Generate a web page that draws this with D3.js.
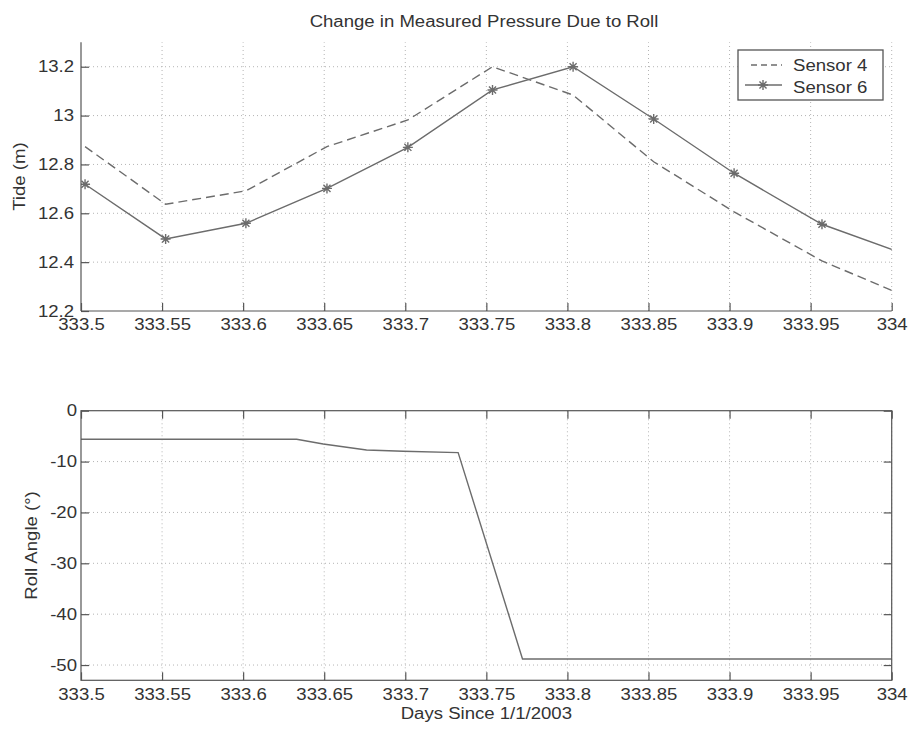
<!DOCTYPE html>
<html lang="en">
<head>
<meta charset="UTF-8">
<title>Change in Measured Pressure Due to Roll</title>
<script src="https://d3js.org/d3.v7.min.js"></script>
<style>
    body { margin: 0; background: #fff; }
    svg text {
        font-family: "Liberation Sans", Arial, sans-serif;
        font-size: 16px;
        fill: #333;
    }
    .grid line {
        stroke: #b4b4b4;
        stroke-width: 1;
        stroke-dasharray: 1,3;
    }
    .frame { stroke: #555; stroke-width: 1.2; fill: none; }
    .axis path { display: none; }
    .axis line { stroke: #555; stroke-width: 1.2; }
    .series { fill: none; stroke: #6c6c6c; stroke-width: 1.4; }
</style>
</head>
<body>
<div id="chart"></div>
<script>
// ---- data ----
const dayTicks = [333.5, 333.55, 333.6, 333.65, 333.7, 333.75, 333.8, 333.85, 333.9, 333.95, 334];
const tideTicks = [12.2, 12.4, 12.6, 12.8, 13, 13.2];
const rollTicks = [-50, -40, -30, -20, -10, 0];

// samples, last one sits just past the axis limit and gets clipped
const sampleDays = [333.5025, 333.5522, 333.6017, 333.6517, 333.7016, 333.7538,
                    333.8035, 333.8532, 333.9028, 333.9570, 334.007];
const sensor4 = [12.873, 12.637, 12.692, 12.873, 12.982, 13.200,
                 13.084, 12.811, 12.606, 12.405, 12.265];
const sensor6 = [12.719, 12.495, 12.559, 12.702, 12.870, 13.105,
                 13.200, 12.986, 12.764, 12.555, 12.436];

const rollDays = [333.5, 333.633, 333.6494, 333.6761, 333.6987, 333.7326, 333.7723, 334];
const rollAngle = [-5.62, -5.62, -6.54, -7.72, -7.98, -8.25, -48.8, -48.8];

// ---- layout ----
const W = 908, H = 729;
const fmt = d => String(+d.toFixed(2));
const STRETCH = 1.16;   // the scanned lettering is wider than Arial

const svg = d3.select("#chart").append("svg")
    .attr("width", W)
    .attr("height", H);

const x = d3.scaleLinear().domain([333.5, 334]).range([81, 891.7]);
const yTide = d3.scaleLinear().domain([12.2, 13.3]).range([311, 42.3]);
const yRoll = d3.scaleLinear().domain([-53, 0]).range([680.3, 410.7]);

// star marker ('*'): a plus and a cross on top of each other
function starPath(r) {
    const d = r * Math.SQRT1_2;
    return `M${-r},0L${r},0M0,${-r}L0,${r}M${-d},${-d}L${d},${d}M${-d},${d}L${d},${-d}`;
}

function grid(g, y, yTicks, topY) {
    const gg = g.append("g").attr("class", "grid");
    gg.selectAll(".v").data(dayTicks.slice(1)).enter().append("line")
        .attr("x1", d => x(d)).attr("x2", d => x(d))
        .attr("y1", y.range()[0]).attr("y2", topY);
    gg.selectAll(".h").data(yTicks.filter(t => y(t) < y.range()[0] - 1 && y(t) > y.range()[1] + 1))
        .enter().append("line")
        .attr("x1", x.range()[0]).attr("x2", x.range()[1])
        .attr("y1", d => y(d)).attr("y2", d => y(d));
}

// ---------- top panel ----------
const upper = svg.append("g");
grid(upper, yTide, tideTicks, yTide.range()[1]);

upper.append("clipPath").attr("id", "clipTop")
    .append("rect")
    .attr("x", x.range()[0]).attr("y", yTide.range()[1])
    .attr("width", x.range()[1] - x.range()[0])
    .attr("height", yTide.range()[0] - yTide.range()[1]);

const tideLine = vals => d3.line()
    .x((d, i) => x(sampleDays[i]))
    .y(d => yTide(d))(vals);

const plotTop = upper.append("g").attr("clip-path", "url(#clipTop)");
plotTop.append("path").attr("class", "series")
    .attr("stroke-dasharray", "9,5")
    .attr("d", tideLine(sensor4));
plotTop.append("path").attr("class", "series")
    .attr("d", tideLine(sensor6));
plotTop.selectAll(".star")
    .data(sensor6.map((v, i) => [sampleDays[i], v]).filter(p => p[0] <= 334))
    .enter().append("path")
    .attr("class", "series")
    .attr("transform", d => `translate(${x(d[0])},${yTide(d[1])})`)
    .attr("d", starPath(5));

upper.append("g").attr("class", "axis")
    .attr("transform", `translate(0,${yTide.range()[0]})`)
    .call(d3.axisBottom(x).tickValues(dayTicks).tickFormat(fmt).tickSizeInner(-8).tickSizeOuter(0).tickPadding(8));
upper.append("g").attr("class", "axis")
    .attr("transform", `translate(${x.range()[0]},0)`)
    .call(d3.axisLeft(yTide).tickValues(tideTicks).tickFormat(fmt).tickSizeInner(-8).tickSizeOuter(0).tickPadding(7));
upper.append("line").attr("class", "frame")
    .attr("x1", x.range()[0]).attr("x2", x.range()[1])
    .attr("y1", yTide.range()[0]).attr("y2", yTide.range()[0]);
upper.append("line").attr("class", "frame")
    .attr("x1", x.range()[0]).attr("x2", x.range()[0])
    .attr("y1", yTide.range()[0]).attr("y2", yTide.range()[1]);

upper.append("text")
    .attr("x", 484).attr("y", 27)
    .attr("text-anchor", "middle")
    .text("Change in Measured Pressure Due to Roll");

upper.append("text")
    .attr("transform", `translate(25,${(yTide.range()[0] + yTide.range()[1]) / 2}) rotate(-90)`)
    .attr("text-anchor", "middle")
    .text("Tide (m)");

// legend
const lg = upper.append("g");
lg.append("rect")
    .attr("x", 738).attr("y", 50).attr("width", 145).attr("height", 50)
    .attr("fill", "#fff").attr("stroke", "#555").attr("stroke-width", 1.3);
lg.append("line").attr("class", "series")
    .attr("x1", 751).attr("x2", 782).attr("y1", 65).attr("y2", 65)
    .attr("stroke-dasharray", "6,4");
lg.append("line").attr("class", "series")
    .attr("x1", 745).attr("x2", 782).attr("y1", 85).attr("y2", 85);
lg.append("path").attr("class", "series")
    .attr("transform", "translate(763,85)")
    .attr("d", starPath(5));
lg.append("text").attr("x", 793).attr("y", 71).text("Sensor 4");
lg.append("text").attr("x", 793).attr("y", 93).text("Sensor 6");

// ---------- bottom panel ----------
const lower = svg.append("g");
grid(lower, yRoll, rollTicks, yRoll.range()[1]);

lower.append("path").attr("class", "series")
    .attr("d", d3.line().x((d, i) => x(rollDays[i])).y(d => yRoll(d))(rollAngle));

lower.append("g").attr("class", "axis")
    .attr("transform", `translate(0,${yRoll.range()[0]})`)
    .call(d3.axisBottom(x).tickValues(dayTicks).tickFormat(fmt).tickSizeInner(-8).tickSizeOuter(0).tickPadding(8));
lower.append("g").attr("class", "axis")
    .attr("transform", `translate(0,${yRoll.range()[1]})`)
    .call(d3.axisTop(x).tickValues(dayTicks).tickFormat("").tickSizeInner(-8).tickSizeOuter(0));
lower.append("g").attr("class", "axis")
    .attr("transform", `translate(${x.range()[0]},0)`)
    .call(d3.axisLeft(yRoll).tickValues(rollTicks).tickFormat(fmt).tickSizeInner(-8).tickSizeOuter(0).tickPadding(4));
lower.append("g").attr("class", "axis")
    .attr("transform", `translate(${x.range()[1]},0)`)
    .call(d3.axisRight(yRoll).tickValues(rollTicks).tickFormat("").tickSizeInner(-8).tickSizeOuter(0));
lower.append("rect").attr("class", "frame")
    .attr("x", x.range()[0]).attr("y", yRoll.range()[1])
    .attr("width", x.range()[1] - x.range()[0])
    .attr("height", yRoll.range()[0] - yRoll.range()[1]);

lower.append("text")
    .attr("transform", `translate(37,${(yRoll.range()[0] + yRoll.range()[1]) / 2}) rotate(-90)`)
    .attr("text-anchor", "middle")
    .text("Roll Angle (°)");

lower.append("text")
    .attr("x", (x.range()[0] + x.range()[1]) / 2).attr("y", 719)
    .attr("text-anchor", "middle")
    .text("Days Since 1/1/2003");

// axis text inherits the page font
svg.selectAll(".axis").attr("font-family", null).attr("font-size", null);

// widen the lettering to match the scan (anchoring follows the new length)
svg.selectAll("text").each(function () {
    const w = this.getComputedTextLength();
    if (w > 0) {
        d3.select(this)
            .attr("textLength", w * STRETCH)
            .attr("lengthAdjust", "spacingAndGlyphs");
    }
});
</script>
</body>
</html>
